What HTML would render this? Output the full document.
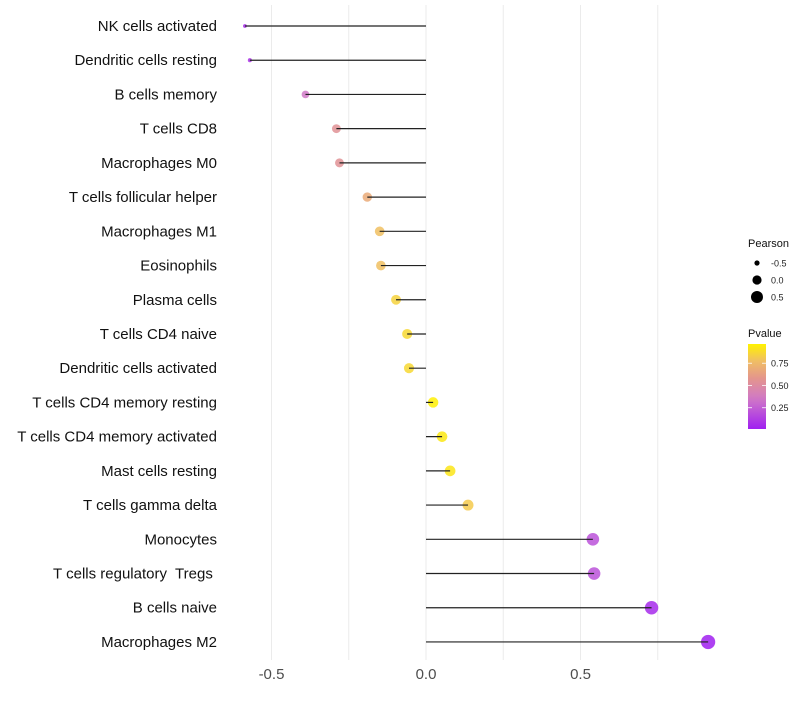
<!DOCTYPE html>
<html><head><meta charset="utf-8"><style>
body{margin:0;background:#fff;font-family:"Liberation Sans",sans-serif}
</style></head><body>
<svg id="chart" width="800" height="700" xmlns="http://www.w3.org/2000/svg"></svg>
<script>
const categories=["NK cells activated","Dendritic cells resting","B cells memory","T cells CD8","Macrophages M0","T cells follicular helper","Macrophages M1","Eosinophils","Plasma cells","T cells CD4 naive","Dendritic cells activated","T cells CD4 memory resting","T cells CD4 memory activated","Mast cells resting","T cells gamma delta","Monocytes","T cells regulatory  Tregs ","B cells naive","Macrophages M2"];
const pearson=[-0.586,-0.57,-0.39,-0.29,-0.28,-0.19,-0.15,-0.146,-0.097,-0.061,-0.055,0.023,0.052,0.078,0.136,0.54,0.544,0.73,0.913];
const pvalue=[0.06,0.08,0.35,0.55,0.55,0.68,0.78,0.78,0.85,0.87,0.87,0.96,0.93,0.92,0.82,0.2,0.2,0.05,0.012];
const xTicks=[-0.5,0,0.5];
const xTickLabels=["-0.5","0.0","0.5"];
const gridVals=[-0.5,-0.25,0,0.25,0.5,0.75];
const sizeLegendVals=[-0.5,0,0.5];
const colorLegendTicks=[0.75,0.5,0.25];
const NS="http://www.w3.org/2000/svg";
const svg=document.getElementById('chart');
const X=v=>426+v*309;
const Y=i=>26+i*34.22;
const pMin=0.011,pMax=0.966;
function lerp(a,b,t){return a+(b-a)*t}
const stops=[[0,[160,32,240]],[0.35,[208,120,200]],[0.6,[228,150,140]],[0.8,[240,190,100]],[1,[255,242,0]]];
function col(p){let t=Math.max(0,Math.min(1,(p-pMin)/(pMax-pMin)));for(let k=1;k<stops.length;k++){if(t<=stops[k][0]){const a=stops[k-1],b=stops[k];const u=(t-a[0])/(b[0]-a[0]);return `rgb(${a[1].map((c,j)=>Math.round(lerp(c,b[1][j],u))).join(',')})`;}}return 'rgb(255,242,0)';}
const rKnots=[[-0.6,1.8],[-0.5,2.6],[-0.4,3.8],[-0.3,4.4],[0,5.2],[0.5,6.2],[0.95,7.2]];
function R(v){if(v<=rKnots[0][0])return rKnots[0][1];for(let k=1;k<rKnots.length;k++){if(v<=rKnots[k][0]){const a=rKnots[k-1],b=rKnots[k];return lerp(a[1],b[1],(v-a[0])/(b[0]-a[0]));}}return 7.2;}
function el(tag,attrs,text){const e=document.createElementNS(NS,tag);for(const k in attrs)e.setAttribute(k,attrs[k]);if(text!==undefined)e.textContent=text;svg.appendChild(e);return e;}
gridVals.forEach(g=>{const e=el('line',{x1:X(g),x2:X(g),y1:5,y2:660,stroke:'#ebebeb','stroke-width':1});

});
categories.forEach((c,i)=>{
 const t=el('text',{x:217,y:Y(i)+5,'text-anchor':'end','font-size':15,fill:'#111',style:'white-space:pre'},c);
 
 
 const pt=el('circle',{cx:X(pearson[i]),cy:Y(i),r:R(pearson[i]),fill:col(pvalue[i]),'fill-opacity':0.85});
 
 
 const ln=el('line',{x1:X(0),x2:X(pearson[i]),y1:Y(i),y2:Y(i),stroke:'#222','stroke-width':1.2});
 
 
});
xTicks.forEach((v,i)=>{const t=el('text',{x:X(v),y:679,'text-anchor':'middle','font-size':15,fill:'#4d4d4d'},xTickLabels[i]);

});
const st=el('text',{x:748,y:247,'font-size':11,fill:'#111'},'Pearson');


const legR=[2.6,4.6,6];
sizeLegendVals.forEach((v,i)=>{const y=263+i*17;
 const c=el('circle',{cx:757,cy:y,r:legR[i],fill:'#000'});
 
 
 const t=el('text',{x:771,y:y+3.5,'font-size':9,fill:'#222'},v===0?'0.0':String(v));
 
 });
const ct=el('text',{x:748,y:337,'font-size':11,fill:'#111'},'Pvalue');


const defs=el('defs',{});
const lg=document.createElementNS(NS,'linearGradient');lg.setAttribute('id','pg');lg.setAttribute('x1','0');lg.setAttribute('y1','1');lg.setAttribute('x2','0');lg.setAttribute('y2','0');
for(let k=0;k<=10;k++){const s=document.createElementNS(NS,'stop');s.setAttribute('offset',k/10);s.setAttribute('stop-color',col(pMin+(pMax-pMin)*k/10));lg.appendChild(s);}
defs.appendChild(lg);
const bar=el('rect',{x:748,y:344,width:18,height:85,fill:'url(#pg)'});


const PY=p=>344+(pMax-p)/(pMax-pMin)*85;
colorLegendTicks.forEach(v=>{const y=PY(v);
 el('line',{x1:748,x2:752,y1:y,y2:y,stroke:'#fff','stroke-width':0.8});
 el('line',{x1:762,x2:766,y1:y,y2:y,stroke:'#fff','stroke-width':0.8});
 const t=el('text',{x:771,y:y+3.5,'font-size':9,fill:'#222'},v.toFixed(2));
 
 });
</script>
</body></html>
